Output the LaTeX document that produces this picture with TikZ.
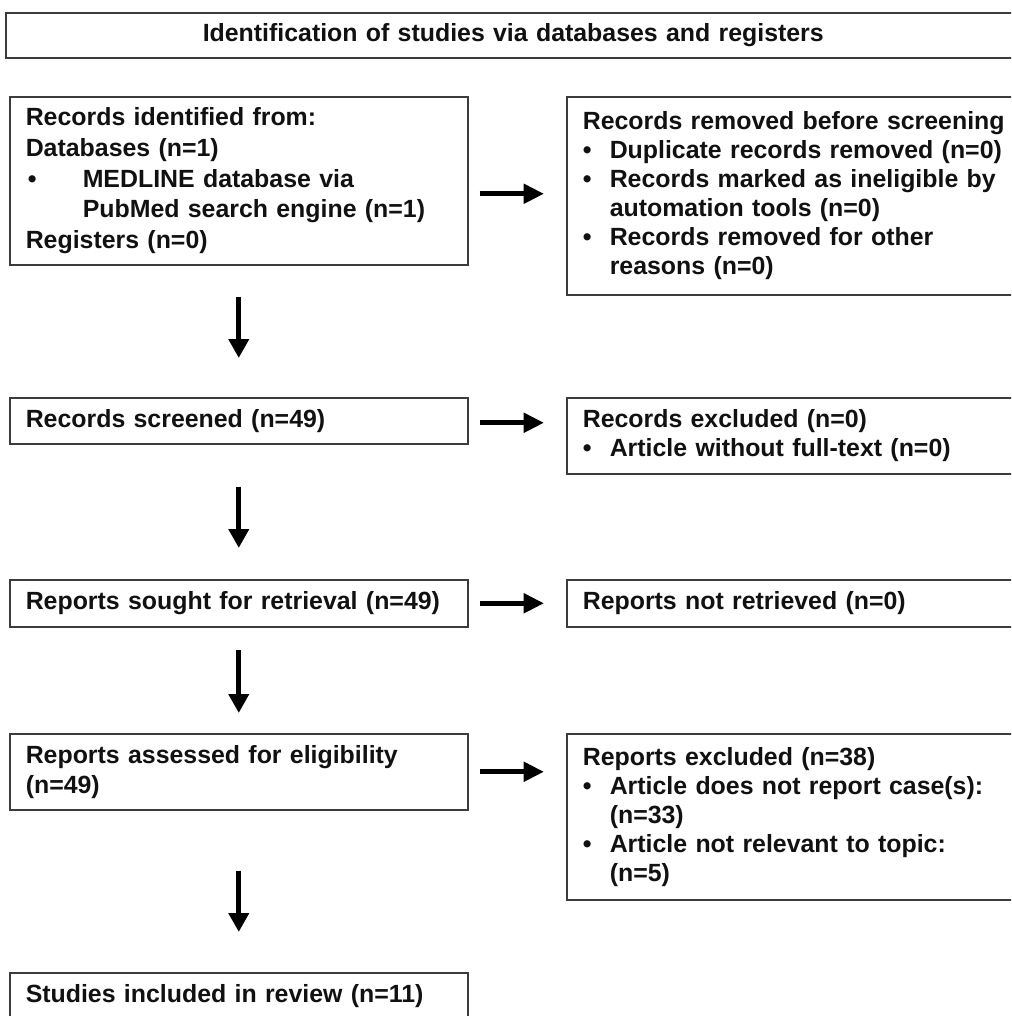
\documentclass[tikz,border=0pt]{standalone}
\usepackage{fontspec}
\setmainfont{Liberation Sans}
\usetikzlibrary{arrows.meta,calc}
\definecolor{cborder}{HTML}{3C3C3C}
\definecolor{ctext}{HTML}{111111}
\newlength{\pxl}
\setlength{\pxl}{0.025cm}
\newcommand{\bul}{\makebox[27\pxl][l]{\textbullet}}
\newcommand{\ind}{\hspace*{27\pxl}}

\begin{document}
\begin{tikzpicture}[
  x=0.025cm, y=-0.025cm,
  box/.style={draw=cborder, line width=1.1pt, anchor=north west,
              inner xsep=16\pxl, inner ysep=0pt, align=left, text=ctext,
              font=\bfseries\fontsize{17.7pt}{20.6pt}\selectfont},
  leftbox/.style={box, text width=426\pxl},
  rightbox/.style={box, text width=450\pxl},
  harr/.style={line width=3.6pt, -{Triangle[width=13.5pt,length=14.5pt]},
               shorten <=11\pxl, shorten >=22\pxl},
  darr/.style={line width=3.8pt, -{Triangle[width=14pt,length=13.5pt]}}
]
\useasboundingbox (0,0) rectangle (1011,1016);
\clip (0,0) rectangle (1011,1016);

\node[box, align=center, text width=983\pxl, minimum height=45\pxl] (head) at (5,12)
  {Identification of studies via databases and registers};

\node[leftbox, minimum height=168\pxl,
      font=\bfseries\fontsize{17.7pt}{21.8pt}\selectfont] (ident) at (9,96) {
  Records identified from:\\
  Databases (n=1)\\
  \makebox[57\pxl][l]{\hspace*{2\pxl}\textbullet}MEDLINE database via\\
  \hspace*{57\pxl}PubMed search engine (n=1)\\
  Registers (n=0)
};
\node[rightbox, minimum height=198\pxl] (rem) at (566,96) {
  Records removed before screening\\
  \bul Duplicate records removed (n=0)\\
  \bul Records marked as ineligible by\\
  \ind automation tools (n=0)\\
  \bul Records removed for other\\
  \ind reasons (n=0)
};

\node[leftbox, minimum height=46\pxl] (screen) at (9,397) {Records screened (n=49)};
\node[rightbox, minimum height=76\pxl] (excl) at (566,397) {
  Records excluded (n=0)\\
  \bul Article without full-text (n=0)
};

\node[leftbox, minimum height=47\pxl] (sought) at (9,579) {Reports sought for retrieval (n=49)};
\node[rightbox, minimum height=47\pxl] (notret) at (566,579) {Reports not retrieved (n=0)};

\node[leftbox, minimum height=76\pxl,
      font=\bfseries\fontsize{17.7pt}{21.3pt}\selectfont] (assess) at (9,733) {
  Reports assessed for eligibility\\
  (n=49)
};
\node[rightbox, minimum height=166\pxl] (repexcl) at (566,733) {
  Reports excluded (n=38)\\
  \bul Article does not report case(s):\\
  \ind (n=33)\\
  \bul Article not relevant to topic:\\
  \ind (n=5)
};

\node[leftbox, minimum height=46\pxl] (incl) at (9,972) {Studies included in review (n=11)};

\coordinate (a1) at ($(ident.east)+(0,13)$);
\draw[harr] (a1) -- (a1 -| rem.west);
\draw[harr] ($(screen.east)+(0,2)$) coordinate (a2) -- (a2 -| excl.west);
\draw[harr] (sought.east) -- (sought.east -| notret.west);
\draw[harr] (assess.east) -- (assess.east -| repexcl.west);

\draw[darr, shorten <=31\pxl, shorten >=39\pxl] (ident.south) -- (screen.north);
\draw[darr, shorten <=42\pxl, shorten >=31\pxl] (screen.south) -- (sought.north);
\draw[darr, shorten <=22\pxl, shorten >=20\pxl] (sought.south) -- (assess.north);
\draw[darr, shorten <=60\pxl, shorten >=40\pxl] (assess.south) -- (incl.north);
\end{tikzpicture}
\end{document}
